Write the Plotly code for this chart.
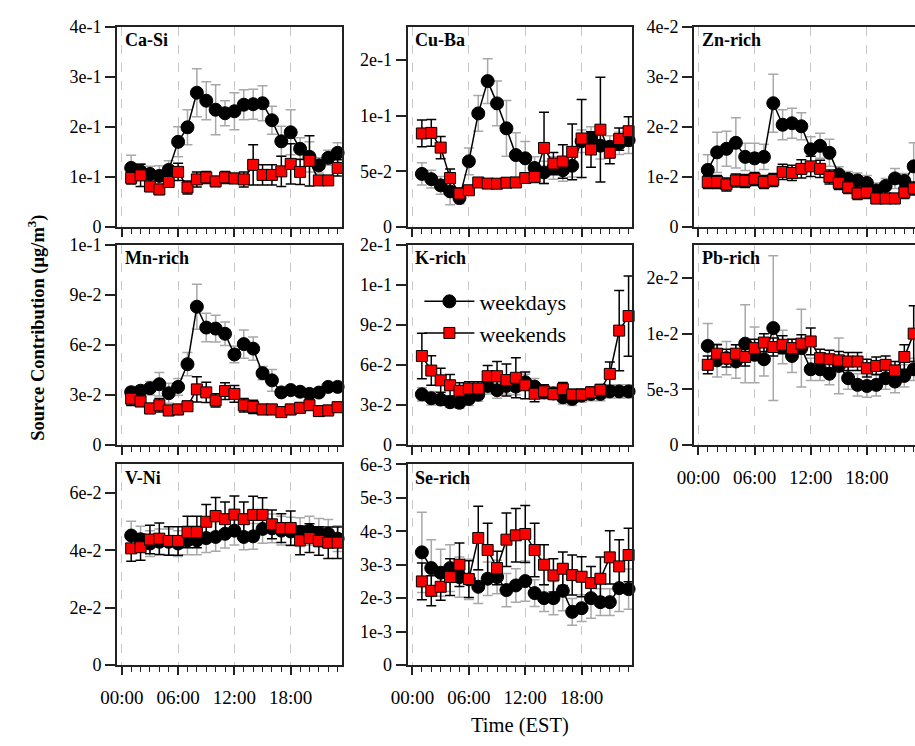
import plotly.graph_objects as go

# ---------------- data ----------------
hours = [1, 2, 3, 4, 5, 6, 7, 8, 9, 10, 11, 12, 13, 14, 15, 16, 17, 18, 19, 20, 21, 22, 23]
hour_ticks = [0, 6, 12, 18]
hour_labels = ["00:00", "06:00", "12:00", "18:00"]
series_names = ["weekdays", "weekends"]

casi_wd = [0.118, 0.111, 0.106, 0.102, 0.114, 0.170, 0.199, 0.268, 0.252, 0.234, 0.227, 0.231,
           0.244, 0.245, 0.247, 0.213, 0.171, 0.189, 0.156, 0.140, 0.123, 0.138, 0.148]
casi_wd_err = [0.025, 0.015, 0.015, 0.020, 0.018, 0.030, 0.035, 0.048, 0.038, 0.050, 0.025, 0.037,
               0.030, 0.030, 0.035, 0.028, 0.030, 0.045, 0.022, 0.030, 0.015, 0.015, 0.020]
casi_we = [0.098, 0.103, 0.081, 0.075, 0.090, 0.110, 0.079, 0.095, 0.099, 0.091, 0.099, 0.097,
           0.095, 0.124, 0.104, 0.104, 0.111, 0.126, 0.110, 0.132, 0.093, 0.093, 0.118]
casi_we_err = [0.012, 0.022, 0.010, 0.010, 0.010, 0.017, 0.013, 0.015, 0.012, 0.010, 0.012, 0.010,
               0.015, 0.040, 0.020, 0.020, 0.030, 0.040, 0.025, 0.050, 0.006, 0.006, 0.016]

cuba_wd = [0.0477, 0.043, 0.0374, 0.032, 0.026, 0.059, 0.102, 0.131, 0.111, 0.0886, 0.0646, 0.0617,
           0.053, 0.049, 0.053, 0.051, 0.055, 0.077, 0.080, 0.073, 0.072, 0.075, 0.078]
cuba_wd_err = [0.010, 0.008, 0.008, 0.012, 0.005, 0.012, 0.016, 0.020, 0.020, 0.025, 0.020, 0.015,
               0.010, 0.010, 0.010, 0.010, 0.010, 0.010, 0.010, 0.012, 0.010, 0.010, 0.012]
cuba_we = [0.084, 0.0845, 0.0713, 0.044, 0.030, 0.033, 0.040, 0.039, 0.0389, 0.0398, 0.040, 0.044,
           0.045, 0.071, 0.057, 0.0588, 0.0675, 0.0795, 0.0696, 0.0874, 0.0667, 0.079, 0.086]
cuba_we_err = [0.012, 0.012, 0.010, 0.008, 0.005, 0.004, 0.004, 0.004, 0.004, 0.004, 0.004, 0.004,
               0.005, 0.032, 0.010, 0.015, 0.025, 0.035, 0.016, 0.047, 0.010, 0.010, 0.013]

zn_wd = [0.0114, 0.0149, 0.0156, 0.0168, 0.0140, 0.0137, 0.0140, 0.0247, 0.0204, 0.0207, 0.0201, 0.0155,
         0.0162, 0.0148, 0.0105, 0.0096, 0.0093, 0.0088, 0.0073, 0.0082, 0.0097, 0.0092, 0.0121]
zn_wd_err = [0.0030, 0.0040, 0.0035, 0.0050, 0.0027, 0.0030, 0.0025, 0.0058, 0.0030, 0.0030, 0.0027, 0.0025,
             0.0025, 0.0027, 0.0015, 0.0015, 0.0015, 0.0015, 0.0015, 0.0015, 0.0020, 0.0015, 0.0047]
zn_we = [0.0090, 0.0090, 0.0085, 0.0093, 0.0092, 0.0096, 0.0090, 0.0094, 0.0110, 0.0108, 0.0116, 0.0121,
         0.0116, 0.0100, 0.0088, 0.0079, 0.0067, 0.0069, 0.0057, 0.0057, 0.0057, 0.0069, 0.0077]
zn_we_err = [0.0013, 0.0013, 0.0013, 0.0013, 0.0013, 0.0013, 0.0013, 0.0013, 0.0015, 0.0015, 0.0018, 0.0020,
             0.0017, 0.0014, 0.0013, 0.0012, 0.0012, 0.0012, 0.0010, 0.0010, 0.0010, 0.0012, 0.0013]

mn_wd = [0.0316, 0.0325, 0.0340, 0.0364, 0.0310, 0.0348, 0.0484, 0.0828, 0.0703, 0.0697, 0.0666, 0.0542,
         0.0604, 0.0577, 0.0430, 0.0387, 0.0315, 0.0329, 0.0319, 0.0306, 0.0314, 0.0348, 0.0348]
mn_wd_err = [0.003, 0.003, 0.004, 0.007, 0.006, 0.005, 0.007, 0.0135, 0.0085, 0.008, 0.007, 0.005,
             0.0085, 0.007, 0.004, 0.0065, 0.002, 0.002, 0.002, 0.002, 0.002, 0.002, 0.002]
mn_we = [0.0277, 0.0261, 0.0219, 0.0238, 0.0207, 0.0213, 0.0232, 0.0333, 0.0315, 0.0267, 0.0323, 0.0306,
         0.0238, 0.0228, 0.0213, 0.0213, 0.0197, 0.0213, 0.0223, 0.0238, 0.0203, 0.0207, 0.0226]
mn_we_err = [0.004, 0.003, 0.003, 0.004, 0.003, 0.003, 0.003, 0.0075, 0.006, 0.004, 0.005, 0.005,
             0.004, 0.004, 0.003, 0.003, 0.003, 0.003, 0.003, 0.003, 0.003, 0.003, 0.003]

k_wd = [0.0379, 0.0350, 0.0340, 0.0320, 0.0316, 0.0345, 0.0377, 0.0442, 0.0410, 0.0442, 0.0437, 0.0470,
        0.0437, 0.0394, 0.0386, 0.0357, 0.0345, 0.0370, 0.0382, 0.0382, 0.0401, 0.0401, 0.0401]
k_wd_err = [0.005, 0.005, 0.004, 0.004, 0.004, 0.005, 0.005, 0.006, 0.006, 0.006, 0.006, 0.006,
            0.006, 0.005, 0.005, 0.005, 0.005, 0.005, 0.005, 0.005, 0.005, 0.005, 0.005]
k_we = [0.0666, 0.0557, 0.0484, 0.0447, 0.0406, 0.0423, 0.0423, 0.0515, 0.0515, 0.0486, 0.0503, 0.0447,
        0.0384, 0.0401, 0.0382, 0.0418, 0.0377, 0.0377, 0.0394, 0.0413, 0.0532, 0.0856, 0.0965]
k_we_err = [0.017, 0.011, 0.009, 0.008, 0.006, 0.005, 0.005, 0.008, 0.011, 0.012, 0.015, 0.010,
            0.006, 0.005, 0.004, 0.005, 0.004, 0.004, 0.004, 0.004, 0.009, 0.030, 0.030]

pb_wd = [0.0089, 0.0076, 0.0078, 0.0075, 0.0091, 0.0081, 0.0077, 0.0105, 0.0088, 0.0080, 0.0087, 0.0068,
         0.0068, 0.0064, 0.0071, 0.0060, 0.0054, 0.0053, 0.0054, 0.0060, 0.0057, 0.0062, 0.0068]
pb_wd_err = [0.0020, 0.0015, 0.0015, 0.0015, 0.0035, 0.0025, 0.0015, 0.0065, 0.0015, 0.0015, 0.0035, 0.0010,
             0.0010, 0.0010, 0.0025, 0.0010, 0.0010, 0.0010, 0.0010, 0.0010, 0.0010, 0.0010, 0.0010]
pb_we = [0.0072, 0.0082, 0.0078, 0.0082, 0.0079, 0.0087, 0.0092, 0.0088, 0.0090, 0.0087, 0.0091, 0.0093,
         0.0078, 0.0077, 0.0076, 0.0075, 0.0075, 0.0069, 0.0071, 0.0072, 0.0067, 0.0079, 0.0100]
pb_we_err = [0.0008, 0.0008, 0.0008, 0.0008, 0.0008, 0.0008, 0.0008, 0.0008, 0.0008, 0.0008, 0.0008, 0.0012,
             0.0008, 0.0008, 0.0008, 0.0008, 0.0008, 0.0008, 0.0008, 0.0008, 0.0008, 0.0011, 0.0025]

vni_wd = [0.0452, 0.0439, 0.0424, 0.0430, 0.0430, 0.0424, 0.0435, 0.0435, 0.0443, 0.0447, 0.0458, 0.0469,
          0.0447, 0.0449, 0.0475, 0.0477, 0.0469, 0.0466, 0.0464, 0.0469, 0.0461, 0.0458, 0.0441]
vni_wd_err = [0.0050, 0.0045, 0.0045, 0.0045, 0.0045, 0.0045, 0.0050, 0.0050, 0.0050, 0.0050, 0.0050, 0.0050,
              0.0045, 0.0045, 0.0050, 0.0050, 0.0050, 0.0050, 0.0050, 0.0050, 0.0050, 0.0050, 0.0045]
vni_we = [0.0407, 0.0411, 0.0438, 0.0441, 0.0433, 0.0433, 0.0464, 0.0464, 0.0500, 0.0520, 0.0509, 0.0525,
          0.0509, 0.0524, 0.0524, 0.0491, 0.0478, 0.0478, 0.0435, 0.0443, 0.0433, 0.0427, 0.0427]
vni_we_err = [0.0045, 0.0045, 0.0050, 0.0055, 0.0050, 0.0050, 0.0055, 0.0055, 0.0060, 0.0065, 0.0060, 0.0065,
              0.0060, 0.0065, 0.0060, 0.0050, 0.0050, 0.0060, 0.0050, 0.0050, 0.0050, 0.0055, 0.0055]

se_wd = [0.00337, 0.00290, 0.00276, 0.00290, 0.00263, 0.00256, 0.00234, 0.00258, 0.00263, 0.00224, 0.00238, 0.00251,
         0.00215, 0.00200, 0.00200, 0.00222, 0.00159, 0.00170, 0.00200, 0.00188, 0.00188, 0.00230, 0.00227]
se_wd_err = [0.0012, 0.00085, 0.0007, 0.0007, 0.0006, 0.0006, 0.0005, 0.0005, 0.0005, 0.0005, 0.0005, 0.0006,
             0.0004, 0.0004, 0.0005, 0.0006, 0.0004, 0.0004, 0.0006, 0.0004, 0.0004, 0.0007, 0.0006]
se_we = [0.00250, 0.00222, 0.00234, 0.00263, 0.00300, 0.00257, 0.00380, 0.00344, 0.00290, 0.00375, 0.00388, 0.00392,
         0.00344, 0.00300, 0.00268, 0.00288, 0.00269, 0.00264, 0.00245, 0.00258, 0.00322, 0.00295, 0.00329]
se_we_err = [0.00055, 0.00045, 0.0004, 0.00055, 0.00065, 0.00055, 0.00095, 0.0008, 0.0005, 0.0008, 0.0008, 0.00085,
             0.0008, 0.0006, 0.0005, 0.0005, 0.0006, 0.0006, 0.0005, 0.00065, 0.0008, 0.0008, 0.0008]

panel_names = ["Ca-Si", "Cu-Ba", "Zn-rich", "Mn-rich", "K-rich", "Pb-rich", "V-Ni", "Se-rich"]
y_tickvals = [
    [0, 0.1, 0.2, 0.3, 0.4],
    [0, 0.05, 0.10, 0.15],
    [0, 0.01, 0.02, 0.03, 0.04],
    [0, 0.03, 0.06, 0.09, 0.12],
    [0, 0.03, 0.06, 0.09, 0.12, 0.15],
    [0, 0.005, 0.010, 0.015],
    [0, 0.02, 0.04, 0.06],
    [0, 0.001, 0.002, 0.003, 0.004, 0.005, 0.006],
]
y_ticktext = [
    ["0", "1e-1", "2e-1", "3e-1", "4e-1"],
    ["0", "5e-2", "1e-1", "2e-1"],
    ["0", "1e-2", "2e-2", "3e-2", "4e-2"],
    ["0", "3e-2", "6e-2", "9e-2", "1e-1"],
    ["0", "3e-2", "6e-2", "9e-2", "1e-1", "2e-1"],
    ["0", "5e-3", "1e-2", "2e-2"],
    ["0", "2e-2", "4e-2", "6e-2"],
    ["0", "1e-3", "2e-3", "3e-3", "4e-3", "5e-3", "6e-3"],
]
y_max = [0.4, 0.18, 0.04, 0.12, 0.15, 0.018, 0.07, 0.006]

panel_data = [
    (casi_wd, casi_wd_err, casi_we, casi_we_err),
    (cuba_wd, cuba_wd_err, cuba_we, cuba_we_err),
    (zn_wd, zn_wd_err, zn_we, zn_we_err),
    (mn_wd, mn_wd_err, mn_we, mn_we_err),
    (k_wd, k_wd_err, k_we, k_we_err),
    (pb_wd, pb_wd_err, pb_we, pb_we_err),
    (vni_wd, vni_wd_err, vni_we, vni_we_err),
    (se_wd, se_wd_err, se_we, se_we_err),
]

# ---------------- layout geometry (pixels) ----------------
W, H = 915, 746
col_px = [(102, 331), (398, 627), (690, 915)]
row_px = [(17, 223), (241, 447), (467, 673)]
x_ranges = [[-0.5, 23.45], [-0.52, 23.4], [-0.45, 23.14]]
FONT = "Liberation Serif"

fig = go.Figure()
layout = dict(
    width=W, height=H, margin=dict(l=0, r=0, t=0, b=0),
    paper_bgcolor="white", plot_bgcolor="white",
    font=dict(family=FONT, color="black", size=18),
    showlegend=True,
    legend=dict(x=410 / W, y=1 - 278 / H, xanchor="left", yanchor="top",
                font=dict(family=FONT, size=22), bgcolor="rgba(0,0,0,0)",
                itemwidth=50, tracegroupgap=0),
)
annotations = []

for i, name in enumerate(panel_names):
    r, c = divmod(i, 3)
    k = i + 1
    xs = "x" if k == 1 else f"x{k}"
    ys = "y" if k == 1 else f"y{k}"
    x0, x1 = col_px[c]
    y0, y1 = row_px[r]
    bottom_row = (i in (5, 6, 7))
    layout["xaxis" if k == 1 else f"xaxis{k}"] = dict(
        domain=[x0 / W, x1 / W], range=x_ranges[c], anchor=ys,
        tickvals=hour_ticks, ticktext=hour_labels, showticklabels=bottom_row,
        tickfont=dict(size=19), ticklabelstandoff=6,
        ticks="outside", ticklen=8, tickwidth=1.5, tickcolor="#222",
        minor=dict(tickvals=list(range(24)), ticks="outside", ticklen=5, tickwidth=1,
                   tickcolor="#222", showgrid=False),
        showgrid=True, gridcolor="#c8c8c8", gridwidth=1, griddash="dash",
        showline=True, linecolor="#222", linewidth=1.5, mirror=True, zeroline=False,
    )
    layout["yaxis" if k == 1 else f"yaxis{k}"] = dict(
        domain=[1 - y1 / H, 1 - y0 / H], range=[0, y_max[i]], anchor=xs,
        tickvals=y_tickvals[i], ticktext=y_ticktext[i], tickfont=dict(size=18),
        ticks="outside", ticklen=10, tickwidth=1.5, tickcolor="#222",
        showgrid=False, zeroline=False,
        showline=True, linecolor="#222", linewidth=2, mirror=(c != 2),
    )
    wd, wd_err, we, we_err = panel_data[i]
    fig.add_trace(go.Scatter(
        x=hours, y=wd, name=series_names[0], mode="lines+markers",
        xaxis=xs, yaxis=ys, showlegend=(i == 4), cliponaxis=False,
        line=dict(color="black", width=1.5),
        marker=dict(symbol="circle", size=13, color="black", line=dict(color="black", width=1)),
        error_y=dict(type="data", array=wd_err, color="#a8a8a8", thickness=1.5, width=5),
    ))
    fig.add_trace(go.Scatter(
        x=hours, y=we, name=series_names[1], mode="lines+markers",
        xaxis=xs, yaxis=ys, showlegend=(i == 4), cliponaxis=False,
        line=dict(color="black", width=1.5),
        marker=dict(symbol="square", size=11, color="#ff0000", line=dict(color="black", width=1)),
        error_y=dict(type="data", array=we_err, color="black", thickness=1.5, width=5),
    ))
    annotations.append(dict(
        text=f"<b>{name}</b>", xref="paper", yref="paper",
        x=(x0 + 6) / W, y=1 - (y0 + 14) / H, xanchor="left", yanchor="middle",
        showarrow=False, font=dict(family=FONT, size=18, color="black"),
    ))

annotations.append(dict(
    text="<b>Source Contribution (μg/m<sup>3</sup>)</b>", xref="paper", yref="paper",
    x=20 / W, y=1 - 327 / H, xanchor="center", yanchor="middle", textangle=-90,
    showarrow=False, font=dict(family=FONT, size=18.5, color="black"),
))
annotations.append(dict(
    text="Time (EST)", xref="paper", yref="paper",
    x=513 / W, y=1 - 735 / H, xanchor="center", yanchor="middle",
    showarrow=False, font=dict(family=FONT, size=20.5, color="black"),
))
layout["annotations"] = annotations
fig.update_layout(**layout)
fig.write_html("out.html")
